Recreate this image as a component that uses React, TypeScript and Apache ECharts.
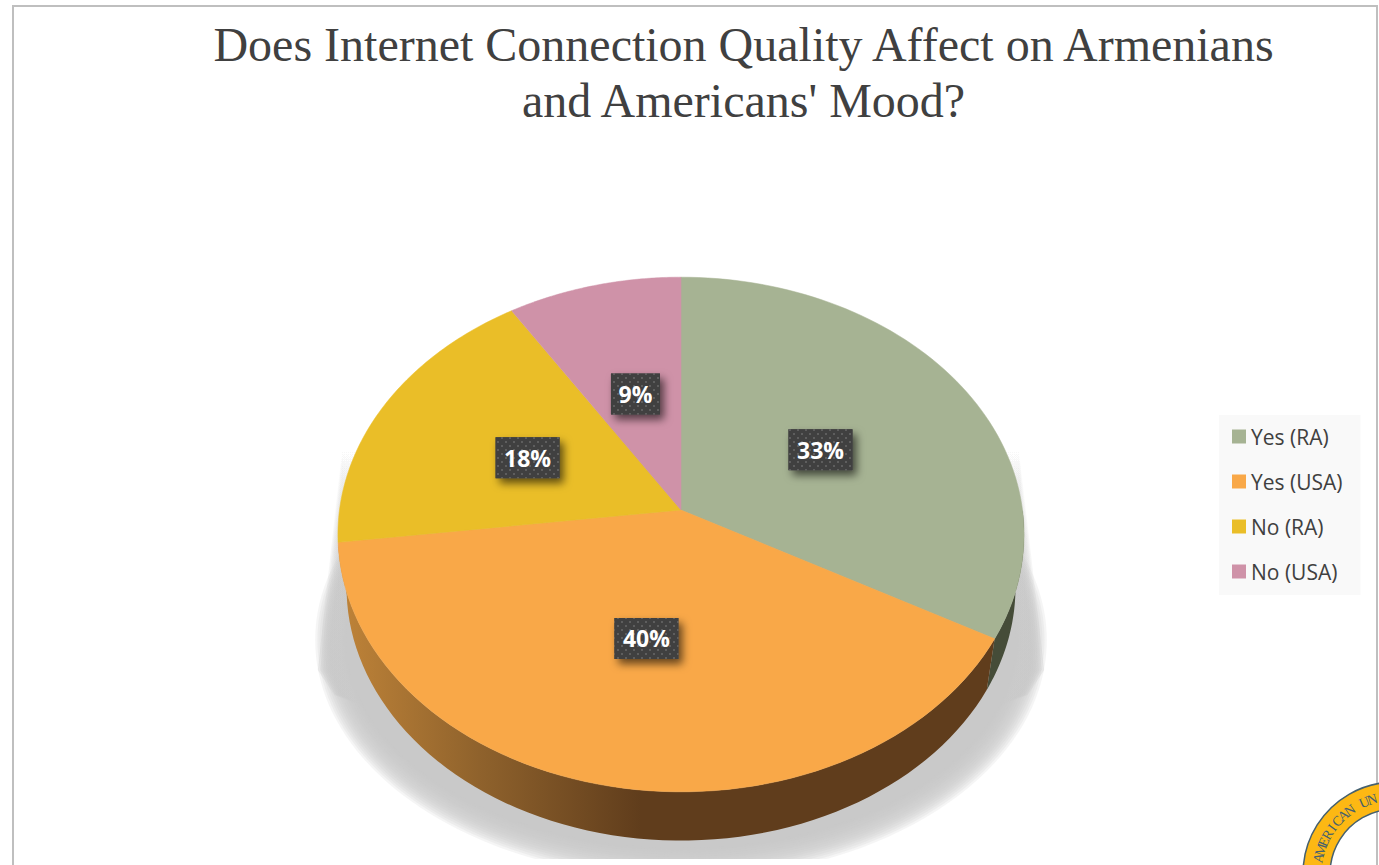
import React, { useEffect, useRef } from "react";
import * as echarts from "echarts";

const chartTitle = "Does Internet Connection Quality Affect on Armenians\nand Americans' Mood?";
const categories = ["Yes (RA)", "Yes (USA)", "No (RA)", "No (USA)"];
const shares = [33, 40, 18, 9];
const faceColors = ["#a6b393", "#f9a848", "#eabe28", "#cf92a8"];
const labelNudge = [[-4, 3], [-1, -3], [-2, 1], [0, 1]];
const sealLetters = "AMERICAN UN";

const WIDTH = 1379;
const HEIGHT = 865;

// Perspective of the disc: the centre sits above the middle of the drawn ellipse.
const APEX_X = 681;
const APEX_Y = 510;
const SCALE_X = 341.5;
const SCALE_Y = 255;
const TILT = 0.0952;

const project = (angle: number, radius = 1): [number, number] => {
  const u = Math.sin(angle) * radius;
  const v = Math.cos(angle) * radius;
  const w = 1 + TILT * v;
  return [APEX_X + (SCALE_X * u) / w, APEX_Y - (SCALE_Y * v) / w];
};

// Lower rim of the disc, slightly smaller and further down.
const projectLower = (angle: number): [number, number] => {
  const [x, y] = project(angle);
  return [APEX_X + (x - APEX_X) * 0.975, APEX_Y + (y - APEX_Y) * 0.985 + 53];
};

const arcAngles = (from: number, to: number, steps = 72): number[] => {
  const out: number[] = [];
  for (let i = 0; i <= steps; i++) out.push(from + ((to - from) * i) / steps);
  return out;
};

const total = shares.reduce((a, b) => a + b, 0);
const startShare = (index: number) => shares.slice(0, index).reduce((a, b) => a + b, 0);
const toAngle = (share: number) => (share / total) * Math.PI * 2;

const wallGradient = (index: number) =>
  index === 0
    ? "#454c38"
    : new echarts.graphic.LinearGradient(
        345, 0, 1017, 0,
        [
          { offset: 0, color: "#bd8238" },
          { offset: 0.2, color: "#8f622c" },
          { offset: 0.44, color: "#603d1c" },
          { offset: 1, color: "#603d1c" },
        ],
        true
      );

const dotTile = () => {
  const canvas = document.createElement("canvas");
  canvas.width = 8;
  canvas.height = 8;
  const ctx = canvas.getContext("2d")!;
  ctx.fillStyle = "#404040";
  ctx.fillRect(0, 0, 8, 8);
  ctx.fillStyle = "#5e5e5e";
  ctx.fillRect(1, 1, 2, 2);
  ctx.fillRect(5, 5, 2, 2);
  return canvas;
};

// Soft floor shadow: stacked translucent layers that grow outwards.
const floorShadow = () => {
  const parts: any[] = [];
  const layers = 14;
  for (let k = layers; k >= 1; k--) {
    parts.push({
      type: "ellipse",
      z: 0,
      silent: true,
      shape: { cx: 681, cy: 640, rx: 335 + k * 2.2, ry: 208 + k * 2.2 },
      style: { fill: "rgba(201,201,201,0.18)" },
    });
  }
  parts.push({
    type: "ellipse",
    z: 0,
    silent: true,
    shape: { cx: 681, cy: 640, rx: 335, ry: 208 },
    style: { fill: "#c9c9c9" },
  });

  // Long fading wedges on either side of the disc.
  const flankFill = () =>
    new echarts.graphic.LinearGradient(
      0, 450, 0, 650,
      [
        { offset: 0, color: "rgba(201,201,201,0)" },
        { offset: 1, color: "rgba(201,201,201,0.3)" },
      ],
      true
    );
  for (let k = 0; k < 8; k++) {
    const reach = 8 + k * 2.6;
    parts.push({
      type: "polygon",
      z: 0,
      silent: true,
      shape: {
        points: [
          [342, 450],
          [344 - reach, 670],
          [350 - reach * 0.6, 695],
          [400, 720],
          [400, 450],
        ],
      },
      style: { fill: flankFill() },
    });
    parts.push({
      type: "polygon",
      z: 0,
      silent: true,
      shape: {
        points: [
          [1019, 450],
          [1018 + reach, 670],
          [1012 + reach * 0.6, 695],
          [960, 720],
          [960, 450],
        ],
      },
      style: { fill: flankFill() },
    });
  }
  return parts;
};

export default function App() {
  const ref = useRef<HTMLDivElement>(null);

  useEffect(() => {
    const chart = echarts.init(ref.current!, undefined, { renderer: "svg" });
    const dots = dotTile();

    const renderSlice = (params: any, api: any) => {
      const index = params.seriesIndex as number;
      const from = toAngle(startShare(index));
      const to = from + toAngle(api.value(0));
      const rim = arcAngles(from, to);
      const children: any[] = [];

      // Only the two front slices show a side wall.
      if (index < 2) {
        const wallFrom = index === 0 ? Math.PI / 2 : from;
        const wallAngles = arcAngles(wallFrom, to);
        children.push({
          type: "polygon",
          z2: 1,
          shape: {
            points: [
              ...wallAngles.map((a) => project(a)),
              ...wallAngles.slice().reverse().map((a) => projectLower(a)),
            ],
          },
          style: { fill: wallGradient(index) },
        });
      }

      children.push({
        type: "polygon",
        z2: 2,
        shape: { points: [[APEX_X, APEX_Y], ...rim.map((a) => project(a))] },
        style: { fill: faceColors[index], stroke: faceColors[index], lineWidth: 0.5 },
      });

      const [px, py] = project((from + to) / 2, 0.5);
      const lx = px + labelNudge[index][0];
      const ly = py + labelNudge[index][1];
      const text = `${api.value(0)}%`;
      const boxW = text.length === 2 ? 49 : 64;
      const boxH = 41;
      const box = { x: lx - boxW / 2, y: ly - boxH / 2, width: boxW, height: boxH };
      children.push(
        {
          type: "rect",
          z2: 3,
          shape: box,
          style: {
            fill: "#404040",
            shadowBlur: 8,
            shadowColor: "rgba(0,0,0,0.6)",
            shadowOffsetX: 4,
            shadowOffsetY: 5,
          },
        },
        {
          type: "rect",
          z2: 4,
          shape: box,
          style: { fill: { image: dots, repeat: "repeat", imageWidth: 8, imageHeight: 8 } },
        },
        {
          type: "text",
          z2: 5,
          x: lx,
          y: ly,
          style: {
            text,
            fill: "#ffffff",
            font: "bold 23px 'Open Sans', sans-serif",
            align: "center",
            verticalAlign: "middle",
          },
        }
      );
      return { type: "group", children };
    };

    const sealParts = Array.from(sealLetters).map((letter, i) => {
      const clock = ((-78 + 6.1 * i) * Math.PI) / 180;
      return {
        type: "text",
        z: 21,
        silent: true,
        x: 1395 + 78 * Math.sin(clock),
        y: 874 - 78 * Math.cos(clock),
        rotation: -clock,
        style: {
          text: letter,
          fill: "#45606f",
          font: "14px 'Liberation Serif', serif",
          align: "center",
          verticalAlign: "middle",
        },
      };
    });

    chart.setOption({
      animation: false,
      backgroundColor: "#ffffff",
      title: {
        text: chartTitle,
        left: 738.5,
        top: 11,
        textAlign: "center",
        textStyle: {
          fontFamily: "'Liberation Serif', serif",
          fontSize: 48,
          fontWeight: "normal",
          color: "#404040",
          lineHeight: 56,
        },
      },
      legend: {
        data: categories,
        orient: "vertical",
        left: 1219,
        top: 415,
        padding: [11, 18, 13, 13],
        backgroundColor: "#f9f9f9",
        icon: "rect",
        itemWidth: 14,
        itemHeight: 14,
        itemGap: 24,
        selectedMode: false,
        textStyle: { fontFamily: "'Open Sans', sans-serif", fontSize: 21, color: "#404040" },
      },
      graphic: {
        elements: [
          {
            type: "rect",
            z: 0,
            silent: true,
            shape: { x: 13, y: 6, width: 1364, height: 900 },
            style: { fill: "none", stroke: "#bfbfbf", lineWidth: 2 },
          },
          ...floorShadow(),
          {
            type: "rect",
            z: 1,
            silent: true,
            shape: { x: 100, y: 859, width: 1180, height: 10 },
            style: { fill: "#ffffff" },
          },
          {
            type: "ring",
            z: 20,
            silent: true,
            shape: { cx: 1395, cy: 874, r: 92, r0: 65 },
            style: { fill: "#fdb813", stroke: "#45606f", lineWidth: 1.5 },
          },
          ...sealParts,
        ],
      },
      series: categories.map((name, i) => ({
        type: "custom",
        name,
        coordinateSystem: "none",
        silent: true,
        itemStyle: { color: faceColors[i] },
        data: [[shares[i]]],
        renderItem: renderSlice,
      })),
    });

    return () => chart.dispose();
  }, []);

  return (
    <div
      ref={ref}
      style={{ position: "fixed", left: 0, top: 0, width: WIDTH, height: HEIGHT }}
    />
  );
}
